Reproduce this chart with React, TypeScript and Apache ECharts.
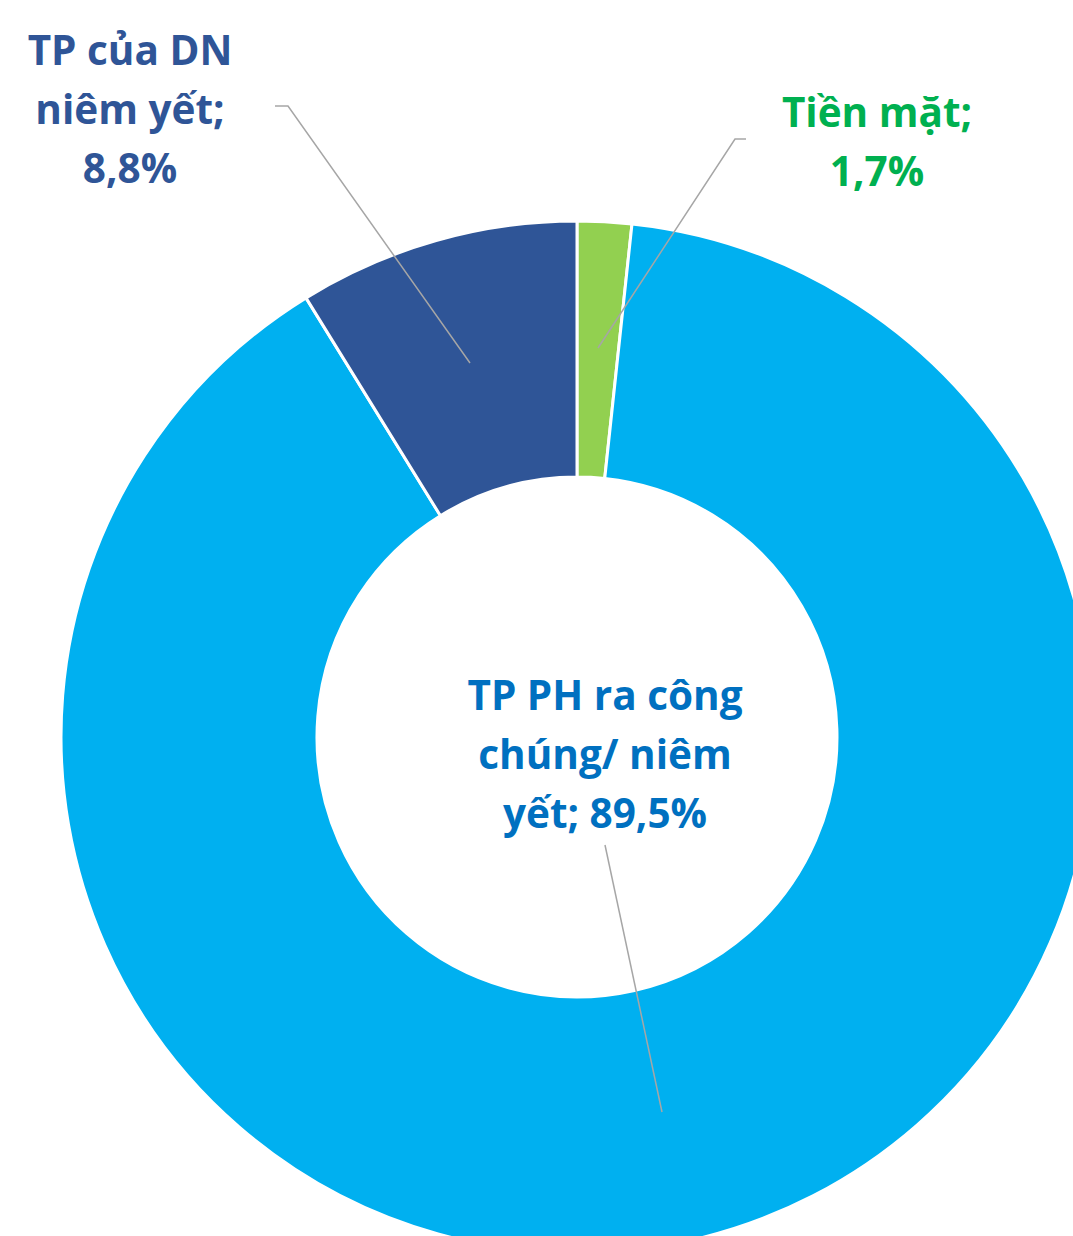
import React, { useEffect, useRef } from "react";
import * as echarts from "echarts";

const categories = ["Tiền mặt", "TP PH ra công chúng/ niêm yết", "TP của DN niêm yết"];
const labelTexts = ["Tiền mặt;", "TP PH ra công\nchúng/ niêm\nyết;", "TP của DN\nniêm yết;"];
const values = [1.7, 89.5, 8.8];
const sliceColors = ["#92D050", "#00B0F0", "#2F5597"];
const labelColors = ["#00B050", "#0070C0", "#2F5597"];
// label anchor positions (x, y middle) and leader line points, per slice
const labelPos = [
  [877, 141],
  [605, 753],
  [130, 108],
];
const leaderPoints = [
  [[598, 348], [735, 139], [746, 139]],
  [[662, 1112], [605, 845]],
  [[470, 363], [288, 106], [275, 106]],
];

const fmt = (v: number) => v.toFixed(1).replace(".", ",") + "%";

export default function App() {
  const ref = useRef<HTMLDivElement>(null);
  useEffect(() => {
    document.body.style.margin = "0";
    const chart = echarts.init(ref.current!, undefined, { renderer: "svg" });
    chart.setOption({
      animation: false,
      backgroundColor: "#ffffff",
      graphic: leaderPoints.map((pts) => ({
        type: "polyline",
        z: 100,
        silent: true,
        shape: { points: pts },
        style: { stroke: "#A6A6A6", lineWidth: 1.5, fill: null },
      })),
      series: [
        {
          type: "pie",
          center: [577, 737],
          radius: [260, 516],
          startAngle: 90,
          clockwise: true,
          avoidLabelOverlap: false,
          itemStyle: { borderColor: "#ffffff", borderWidth: 3 },
          label: {
            show: true,
            position: "outside",
            fontFamily: "Open Sans",
            fontWeight: "bold",
            fontSize: 40.5,
            lineHeight: 59,
            align: "center",
            formatter: (p: any) => {
              const t = labelTexts[p.dataIndex];
              const sep = p.dataIndex === 1 ? " " : "\n";
              return t + sep + fmt(p.value);
            },
          },
          labelLine: { show: false },
          labelLayout: (params: any) => {
            const i = params.dataIndex;
            return {
              x: labelPos[i][0],
              y: labelPos[i][1],
              align: "center",
              verticalAlign: "middle",
            };
          },
          data: categories.map((c, i) => ({
            name: c,
            value: values[i],
            itemStyle: { color: sliceColors[i] },
            label: { color: labelColors[i] },
          })),
        },
      ],
    });
    return () => chart.dispose();
  }, []);
  return <div ref={ref} style={{ width: 1073, height: 1236 }} />;
}
